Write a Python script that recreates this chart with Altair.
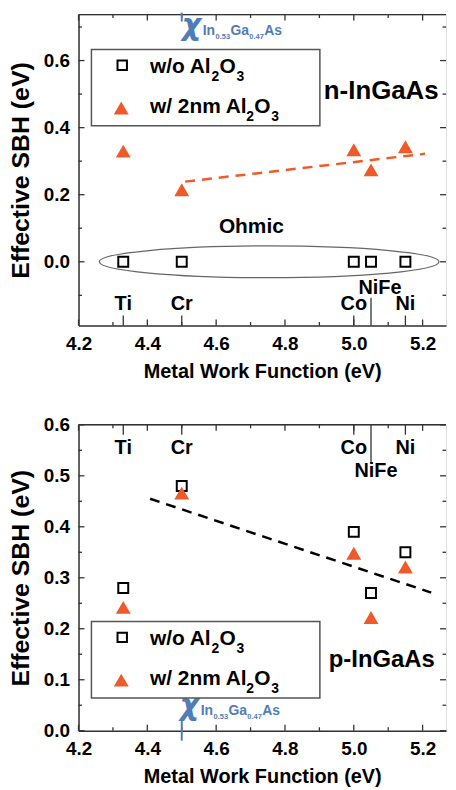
import altair as alt
import pandas as pd

# ---------------- data ----------------
metals = ["Ti", "Cr", "Co", "NiFe", "Ni"]
work_function = [4.33, 4.50, 5.00, 5.05, 5.15]

n_without = [0.0, 0.0, 0.0, 0.0, 0.0]
n_with = [0.330, 0.215, 0.334, 0.274, 0.343]
p_without = [0.280, 0.480, 0.390, 0.270, 0.350]
p_with = [0.242, 0.466, 0.348, 0.222, 0.321]

n_fit_wf = [4.51, 5.207]
n_fit_sbh = [0.239, 0.322]
p_fit_wf = [4.408, 5.225]
p_fit_sbh = [0.455, 0.271]

chi_wf = 4.50
ohmic_center = [4.754, 0.0]

x_major = [4.2, 4.4, 4.6, 4.8, 5.0, 5.2]
x_minor = [4.3, 4.5, 4.7, 4.9, 5.1]
x_domain = [4.2, 5.268]

n_y_major = [0.0, 0.2, 0.4, 0.6]
n_y_minor = [-0.1, 0.1, 0.3, 0.5, 0.7]
n_y_domain = [-0.19, 0.737]

p_y_major = [0.0, 0.1, 0.2, 0.3, 0.4, 0.5, 0.6]
p_y_minor = [0.05, 0.15, 0.25, 0.35, 0.45, 0.55]
p_y_domain = [0.0, 0.6]

# ---------------- styles ----------------
FONT = "Liberation Sans"
CHI_FONT = "DejaVu Sans"
ORANGE = "#EF5A2A"
BLUE = "#4F7DB8"
FRAME = "#333333"
W = 370
H_TOP = 313
H_BOT = 308

one = alt.Data(values=[{}])


def txt(text, x, y, size, color="black", align="left", font=FONT, style="normal", weight="bold"):
    return alt.Chart(one).mark_text(
        text=text, align=align, baseline="alphabetic", font=font,
        fontSize=size, fontWeight=weight, fontStyle=style, color=color
    ).encode(x=alt.value(x), y=alt.value(y))


def legend(top):
    box = alt.Chart(one).mark_rect(
        fill="white", stroke="#555555", strokeWidth=1.5
    ).encode(x=alt.value(13), x2=alt.value(243), y=alt.value(top), y2=alt.value(top + 77))
    sq = alt.Chart(one).mark_point(
        shape="square", filled=False, stroke="black", strokeWidth=2, size=90, opacity=1
    ).encode(x=alt.value(44), y=alt.value(top + 16))
    tri = alt.Chart(one).mark_point(
        shape="triangle-up", filled=True, fill=ORANGE, strokeWidth=0, size=225, opacity=1
    ).encode(x=alt.value(43), y=alt.value(top + 59))
    return [
        box, sq, tri,
        txt("w/o Al", 72, top + 24, 21), txt("2", 134, top + 32, 14),
        txt("O", 142, top + 24, 21), txt("3", 159, top + 32, 14),
        txt("w/ 2nm Al", 72, top + 64, 21), txt("2", 169, top + 72, 14),
        txt("O", 177, top + 64, 21), txt("3", 194, top + 72, 14),
    ]


def chi_label(x0, base):
    return [
        txt("χ", x0, base, 30, BLUE, font=CHI_FONT, style="italic", weight="bold"),
        txt("In", x0 + 21, base, 14, BLUE),
        txt("0.53", x0 + 34, base + 4, 7.5, BLUE),
        txt("Ga", x0 + 49, base, 14, BLUE),
        txt("0.47", x0 + 68, base + 4, 7.5, BLUE),
        txt("As", x0 + 83, base, 14, BLUE),
    ]


def panel(H, y_domain, y_major, y_minor, without, with_, fit_wf, fit_sbh, fit_color, n_type):
    xs = alt.Scale(domain=x_domain, nice=False, zero=False)
    ys = alt.Scale(domain=y_domain, nice=False, zero=False)
    x_axis = alt.Axis(
        values=x_major, format=".1f", ticks=False, tickSize=0, grid=False,
        domain=True, domainColor=FRAME, domainWidth=1.5,
        labelFont=FONT, labelFontSize=19, labelFontWeight="bold", labelColor="black",
        labelPadding=9, labelFlush=False,
        title="Metal Work Function (eV)", titleFont=FONT, titleFontSize=20,
        titleFontWeight="bold", titleColor="black", titlePadding=8,
    )
    y_axis = alt.Axis(
        values=y_major, format=".1f", ticks=False, tickSize=0, grid=False,
        domain=True, domainColor=FRAME, domainWidth=1.5,
        labelFont=FONT, labelFontSize=19, labelFontWeight="bold", labelColor="black",
        labelPadding=9, labelFlush=False,
        title="Effective SBH (eV)", titleFont=FONT, titleFontSize=25,
        titleFontWeight="bold", titleColor="black", titlePadding=10,
    )
    X = lambda: alt.X("wf:Q", scale=xs, axis=x_axis)
    Y = lambda: alt.Y("sbh:Q", scale=ys, axis=y_axis)

    df_wo = pd.DataFrame({"metal": metals, "wf": work_function, "sbh": without})
    df_w = pd.DataFrame({"metal": metals, "wf": work_function, "sbh": with_})
    df_fit = pd.DataFrame({"wf": fit_wf, "sbh": fit_sbh})
    df_m = pd.DataFrame({"metal": metals, "wf": work_function})

    layers = []
    squares = alt.Chart(df_wo).mark_point(
        shape="square", filled=False, stroke="black", strokeWidth=2, size=100, opacity=1
    ).encode(x=X(), y=Y())
    layers.append(squares)

    fit = alt.Chart(df_fit).mark_line(
        color=fit_color, strokeWidth=2.5, strokeDash=[10, 7]
    ).encode(x=X(), y=Y())
    layers.append(fit)

    tris = alt.Chart(df_w).mark_point(
        shape="triangle-up", filled=True, fill=ORANGE, strokeWidth=0, size=225, opacity=1
    ).encode(x=X(), y=Y())
    layers.append(tris)

    # frame: top line
    layers.append(alt.Chart(one).mark_rule(color=FRAME, strokeWidth=1.5).encode(
        x=alt.value(0), x2=alt.value(W), y=alt.value(0)))

    # inward ticks
    def xticks(vals, length):
        d = pd.DataFrame({"wf": vals})
        bot = alt.Chart(d).mark_rule(color=FRAME, strokeWidth=1.3).encode(
            x=X(), y=alt.value(H), y2=alt.value(H - length))
        top = alt.Chart(d).mark_rule(color=FRAME, strokeWidth=1.3).encode(
            x=X(), y=alt.value(0), y2=alt.value(length))
        return [bot, top]

    def yticks(vals, length):
        d = pd.DataFrame({"sbh": vals})
        left = alt.Chart(d).mark_rule(color=FRAME, strokeWidth=1.3).encode(
            y=Y(), x=alt.value(0), x2=alt.value(length))
        right = alt.Chart(d).mark_rule(color=FRAME, strokeWidth=1.3).encode(
            y=Y(), x=alt.value(W - length), x2=alt.value(W))
        return [left, right]

    layers += xticks(x_major, 6) + xticks(x_minor, 3.5)
    layers += yticks(y_major, 6) + yticks(y_minor, 3.5)

    # metal markers and labels
    plain = alt.datum.metal != "NiFe"
    nife = alt.datum.metal == "NiFe"
    if n_type:
        layers.append(alt.Chart(df_m).transform_filter(plain).mark_rule(
            color=FRAME, strokeWidth=1.3).encode(x=X(), y=alt.value(H), y2=alt.value(H - 10)))
        layers.append(alt.Chart(df_m).transform_filter(nife).mark_rule(
            color=FRAME, strokeWidth=1.3).encode(x=X(), y=alt.value(H), y2=alt.value(H - 28)))
        layers.append(alt.Chart(df_m).transform_filter(plain).mark_text(
            font=FONT, fontSize=20, fontWeight="bold", baseline="alphabetic", color="black"
        ).encode(x=X(), y=alt.value(H - 16), text="metal:N"))
        layers.append(alt.Chart(df_m).transform_filter(nife).mark_text(
            font=FONT, fontSize=20, fontWeight="bold", baseline="alphabetic", color="black", dx=9
        ).encode(x=X(), y=alt.value(H - 32), text="metal:N"))
    else:
        layers.append(alt.Chart(df_m).transform_filter(plain).mark_rule(
            color=FRAME, strokeWidth=1.3).encode(x=X(), y=alt.value(0), y2=alt.value(10)))
        layers.append(alt.Chart(df_m).transform_filter(nife).mark_rule(
            color=FRAME, strokeWidth=1.3).encode(x=X(), y=alt.value(0), y2=alt.value(38)))
        layers.append(alt.Chart(df_m).transform_filter(plain).mark_text(
            font=FONT, fontSize=20, fontWeight="bold", baseline="alphabetic", color="black"
        ).encode(x=X(), y=alt.value(29), text="metal:N"))
        layers.append(alt.Chart(df_m).transform_filter(nife).mark_text(
            font=FONT, fontSize=20, fontWeight="bold", baseline="alphabetic", color="black", dx=5
        ).encode(x=X(), y=alt.value(53), text="metal:N"))

    # electron affinity marker
    df_chi = pd.DataFrame({"wf": [chi_wf]})
    if n_type:
        layers.append(alt.Chart(df_chi).mark_rule(color=BLUE, strokeWidth=2).encode(
            x=X(), y=alt.value(-2), y2=alt.value(7)))
        layers += chi_label(104, 21)
        layers += legend(35)
        layers.append(txt("n-InGaAs", 247, 85, 26))
        layers.append(txt("Ohmic", 174, 220, 21, align="center"))
        df_ell = pd.DataFrame({"wf": [ohmic_center[0]], "sbh": [ohmic_center[1]]})
        layers.append(alt.Chart(df_ell).mark_point(
            shape="M -1 0 A 1 0.0936 0 1 0 1 0 A 1 0.0936 0 1 0 -1 0 Z",
            filled=False, stroke="#666666", strokeWidth=1.3, size=342 * 342, opacity=1
        ).encode(x=X(), y=Y()))
    else:
        layers.append(alt.Chart(df_chi).mark_rule(color=BLUE, strokeWidth=2).encode(
            x=X(), y=alt.value(H - 12), y2=alt.value(H + 10)))
        layers += chi_label(102, H - 16)
        layers += legend(198)
        layers.append(txt("p-InGaAs", 252, 244, 24))

    return alt.layer(*layers).properties(width=W, height=H)


top = panel(H_TOP, n_y_domain, n_y_major, n_y_minor, n_without, n_with,
            n_fit_wf, n_fit_sbh, ORANGE, True)
bottom = panel(H_BOT, p_y_domain, p_y_major, p_y_minor, p_without, p_with,
               p_fit_wf, p_fit_sbh, "black", False)

chart = alt.vconcat(top, bottom, spacing=33).properties(
    padding={"left": 0, "top": 0, "right": 0, "bottom": 0}
).configure_view(stroke=None).configure(background="white")

chart.save("out.html", embed_options={"renderer": "svg", "actions": False})
